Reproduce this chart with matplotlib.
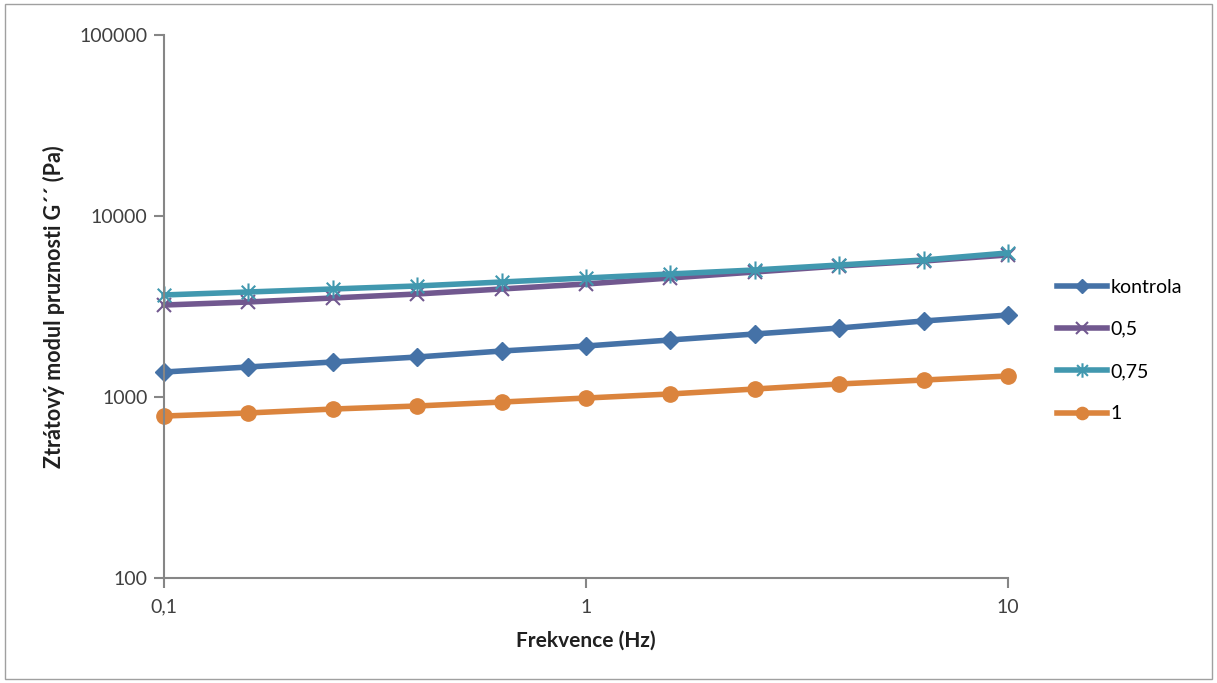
import matplotlib.pyplot as plt
from matplotlib.ticker import FixedLocator, FixedFormatter, NullLocator
from matplotlib.patches import Rectangle
from matplotlib.path import Path

freq = [0.1, 0.158, 0.251, 0.398, 0.631, 1.0, 1.58, 2.51, 3.98, 6.31, 10.0]
kontrola = [1374, 1465, 1561, 1663, 1795, 1913, 2065, 2229, 2405, 2630, 2838]
c_05 = [3222, 3348, 3524, 3708, 3952, 4211, 4544, 4906, 5294, 5641, 6093]
c_075 = [3662, 3802, 3952, 4106, 4318, 4544, 4782, 5032, 5360, 5712, 6248]
c_1 = [785, 816, 858, 892, 938, 987, 1039, 1107, 1180, 1241, 1306]

x_ticks = [0.1, 1, 10]
x_labels = ["0,1", "1", "10"]
y_ticks = [100, 1000, 10000, 100000]
y_labels = ["100", "1000", "10000", "100000"]

plt.rcParams['font.family'] = ['Lato', 'DejaVu Sans']

# excel style asterisk: vertical bar plus an x
star = Path([(0, -1), (0, 1), (-0.75, -0.75), (0.75, 0.75), (-0.75, 0.75), (0.75, -0.75)],
            [Path.MOVETO, Path.LINETO, Path.MOVETO, Path.LINETO, Path.MOVETO, Path.LINETO])

fig = plt.figure(figsize=(12.17, 6.83), dpi=100)
fig.patches.append(Rectangle((0.004, 0.006), 0.992, 0.988, transform=fig.transFigure,
                             fill=False, edgecolor='#a0a0a0', linewidth=1))
ax = fig.add_axes([0.1348, 0.1537, 0.6935, 0.7951])

ax.plot(freq, kontrola, color='#4572A7', lw=4, marker='D', ms=9, label='kontrola', clip_on=False)
ax.plot(freq, c_05, color='#71588F', lw=4, marker='x', ms=10, mew=1.5, label='0,5', clip_on=False)
ax.plot(freq, c_075, color='#4198AF', lw=4, marker=star, ms=13, mew=1.5, label='0,75', clip_on=False)
ax.plot(freq, c_1, color='#DB843D', lw=4, marker='o', ms=11, label='1', clip_on=False)

ax.set_xscale('log')
ax.set_yscale('log')
ax.set_xlim(0.1, 10)
ax.set_ylim(100, 100000)
ax.xaxis.set_major_locator(FixedLocator(x_ticks))
ax.xaxis.set_major_formatter(FixedFormatter(x_labels))
ax.yaxis.set_major_locator(FixedLocator(y_ticks))
ax.yaxis.set_major_formatter(FixedFormatter(y_labels))
ax.xaxis.set_minor_locator(NullLocator())
ax.yaxis.set_minor_locator(NullLocator())

for s in ['top', 'right']:
    ax.spines[s].set_visible(False)
for s in ['left', 'bottom']:
    ax.spines[s].set_color('#868686')
    ax.spines[s].set_linewidth(1.5)
ax.tick_params(axis='both', colors='#868686', length=7, width=1.5, labelsize=14,
               labelcolor='#404040', pad=5)
ax.tick_params(axis='x', pad=8)

ax.set_xlabel('Frekvence (Hz)', fontsize=15, fontweight='bold', color='#202020', labelpad=11)
ax.set_ylabel('Ztrátový modul pruznosti G´´ (Pa)', fontsize=15.5, fontweight='bold',
              color='#202020', labelpad=10)

ax.legend(loc='center left', bbox_to_anchor=(1.037, 0.419), frameon=False, fontsize=14,
          handlelength=2.6, labelspacing=1.3, handletextpad=0.15, markerscale=0.8)

fig.savefig('out.png', dpi=100)
